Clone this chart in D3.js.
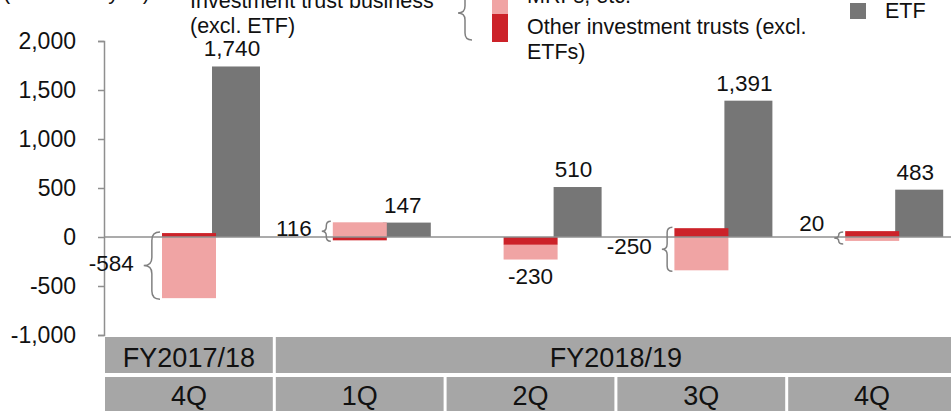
<!DOCTYPE html>
<html>
<head>
<meta charset="utf-8">
<script src="https://cdn.jsdelivr.net/npm/d3@7"></script>
<style>
  body { margin: 0; background: #fff; }
  svg { display: block; font-family: "Liberation Sans", Arial, sans-serif; }
</style>
</head>
<body>
<script>
// quarters and fiscal years
let quarters = ["4Q", "1Q", "2Q", "3Q", "4Q"];
let fyLabels = ["FY2017/18", "FY2018/19"];
let fySpans = [1, 4];

// values, billions of yen
let mrf   = [-624, 150, -150, -340, -40];
let other = [40, -34, -80, 90, 60];
let etf   = [1740, 147, 510, 1391, 483];
let yTicks = [-1000, -500, 0, 500, 1000, 1500, 2000];

let width = 951;
let height = 411;
let margin = {top: 41, left: 104, bottom: 335};

let pink = "#f0a4a4", red = "#cc2229", grey = "#767676", cellFill = "#a6a6a6", axisCol = "#8f8f8f";
let numSize = 22.5;

let fmt = d3.formatLocale({decimal: ".", thousands: ",", grouping: [3], currency: ["", ""], minus: "-"}).format(",");

let svg = d3.select("body").append("svg")
            .attr("width", width)
            .attr("height", height);

let x = d3.scaleBand()
          .domain(d3.range(quarters.length))
          .range([margin.left, 958]);

let y = d3.scaleLinear()
          .domain([-1000, 2000])
          .range([margin.bottom, margin.top]);

// stacked red/pink, other first so it sits next to zero
let table = quarters.map((q, i) => ({i: i, other: other[i], mrf: mrf[i]}));
let series = d3.stack().keys(["other", "mrf"]).offset(d3.stackOffsetDiverging)(table);
let colors = {other: red, mrf: pink};

// ETF bars
svg.selectAll(".etf")
   .data(etf)
   .enter().append("rect")
   .attr("class", "etf")
   .attr("x", (d, i) => x(i) + 108)
   .attr("width", 48)
   .attr("y", d => y(Math.max(d, 0)))
   .attr("height", d => Math.abs(y(d) - y(0)))
   .attr("fill", grey);

series.forEach(s => {
  svg.selectAll(".s-" + s.key)
     .data(s)
     .enter().append("rect")
     .attr("x", (d, i) => x(i) + 58)
     .attr("width", 54)
     .attr("y", d => y(Math.max(d[0], d[1])))
     .attr("height", d => Math.abs(y(d[0]) - y(d[1])))
     .attr("fill", colors[s.key]);
});

// zero line
svg.append("line")
   .attr("x1", margin.left).attr("x2", width)
   .attr("y1", y(0)).attr("y2", y(0))
   .attr("stroke", axisCol).attr("stroke-width", 1.5);

// y axis
let yAxis = svg.append("g")
               .attr("transform", `translate(${margin.left},0)`)
               .call(d3.axisLeft(y).tickValues(yTicks).tickFormat(fmt).tickSize(6).tickSizeOuter(6).tickPadding(22));
yAxis.selectAll("path,line").attr("stroke", axisCol).attr("stroke-width", 1.5);
yAxis.selectAll("text").attr("font-size", 23).attr("fill", "#111").attr("font-family", "Liberation Sans, Arial, sans-serif");

// ETF labels
svg.selectAll(".etf-label")
   .data(etf)
   .enter().append("text")
   .attr("x", (d, i) => x(i) + 128)
   .attr("y", d => y(d) - 10)
   .attr("text-anchor", "middle")
   .attr("font-size", numSize)
   .attr("fill", "#111")
   .text(d => fmt(d));

// curly brace, point on the left
function brace(xr, y0, y1, w) {
  let xm = xr - w / 2, xp = xr - w, ym = (y0 + y1) / 2;
  let r = Math.min(w / 2, (y1 - y0) / 4);
  return `M${xr},${y0} Q${xm},${y0} ${xm},${y0 + r} L${xm},${ym - r} Q${xm},${ym} ${xp},${ym}` +
         ` Q${xm},${ym} ${xm},${ym + r} L${xm},${y1 - r} Q${xm},${y1} ${xr},${y1}`;
}

// totals for investment trusts excl. ETF
quarters.forEach((q, i) => {
  let total = mrf[i] + other[i];
  let top = y(Math.max(0, mrf[i]) + Math.max(0, other[i]));
  let bot = y(Math.min(0, mrf[i]) + Math.min(0, other[i]));
  let left = x(i) + 58;
  if (Math.sign(mrf[i]) === Math.sign(other[i])) {
    svg.append("text")
       .attr("x", left + 27).attr("y", bot + 24)
       .attr("text-anchor", "middle").attr("font-size", numSize).attr("fill", "#111")
       .text(fmt(total));
    return;
  }
  let h = bot - top;
  let w = Math.max(9, Math.min(17, h / 4));
  let b0 = top - 1, b1 = bot + 1;
  if (h < 15) { b0 = top + 1; b1 = bot + 3; }
  svg.append("path")
     .attr("d", brace(left - 2, b0, b1, w))
     .attr("fill", "none").attr("stroke", "#808080").attr("stroke-width", 1.5);
  let ly = h < 15 ? b0 - 1 : (b0 + b1) / 2 + 5;
  svg.append("text")
     .attr("x", left - 2 - w - 10).attr("y", ly)
     .attr("text-anchor", "end").attr("font-size", numSize).attr("fill", "#111")
     .text(fmt(total));
});

// category table
let row1 = 337, row2 = 377;
let start = 0;
fyLabels.forEach((lab, k) => {
  let x0 = x(start) + 1;
  let x1 = x(start + fySpans[k] - 1) + x.bandwidth() - 2;
  svg.append("rect").attr("x", x0).attr("y", row1).attr("width", x1 - x0).attr("height", 36).attr("fill", cellFill);
  svg.append("text").attr("x", (x0 + x1) / 2).attr("y", row1 + 30)
     .attr("text-anchor", "middle").attr("font-size", 27).attr("fill", "#111").text(lab);
  start += fySpans[k];
});
quarters.forEach((q, i) => {
  let x0 = x(i) + 1, x1 = x(i) + x.bandwidth() - 2;
  svg.append("rect").attr("x", x0).attr("y", row2).attr("width", x1 - x0).attr("height", 40).attr("fill", cellFill);
  svg.append("text").attr("x", (x0 + x1) / 2).attr("y", row2 + 28)
     .attr("text-anchor", "middle").attr("font-size", 27).attr("fill", "#111").text(q);
});

// legend & unit (top of the source image is cropped)
let legend = svg.append("g").attr("font-size", 21.5).attr("fill", "#111");
legend.append("text").attr("x", 3).attr("y", -1).text("(Billions of yen)");
legend.append("text").attr("x", 190).attr("y", 8).text("Investment trust business");
legend.append("text").attr("x", 190).attr("y", 33).text("(excl. ETF)");
legend.append("path").attr("d", brace(472, -14, 40, 14)).attr("fill", "none").attr("stroke", "#808080").attr("stroke-width", 1.5);
legend.append("rect").attr("x", 492).attr("y", -12).attr("width", 16).attr("height", 26).attr("fill", pink);
legend.append("rect").attr("x", 492).attr("y", 14).attr("width", 16).attr("height", 28).attr("fill", red);
legend.append("text").attr("x", 527).attr("y", 3).text("MRFs, etc.");
legend.append("text").attr("x", 527).attr("y", 34).text("Other investment trusts (excl.");
legend.append("text").attr("x", 527).attr("y", 59).text("ETFs)");
legend.append("rect").attr("x", 850).attr("y", 3).attr("width", 16).attr("height", 16).attr("fill", grey);
legend.append("text").attr("x", 885).attr("y", 18).text("ETF");
</script>
</body>
</html>
